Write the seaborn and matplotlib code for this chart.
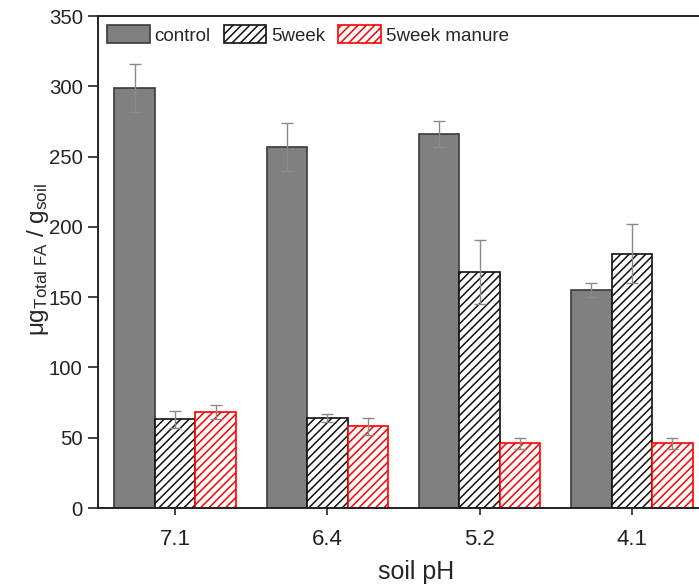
import matplotlib
matplotlib.use("Agg")
import matplotlib.pyplot as plt
import seaborn as sns
import pandas as pd
import numpy as np

# data
ph_levels = ['7.1', '6.4', '5.2', '4.1']
series = ['control', '5week', '5week manure']
control = [299, 257, 266, 155]
control_err = [17, 17, 9, 5]
week5 = [63, 64, 168, 181]
week5_err = [6, 3, 23, 21]
manure = [68, 58, 46, 46]
manure_err = [5, 6, 4, 4]

df = pd.DataFrame({
    'pH': ph_levels * 3,
    'treatment': [s for s in series for _ in ph_levels],
    'value': control + week5 + manure,
    'err': control_err + week5_err + manure_err,
})

sns.set_style('ticks')
plt.rcParams['font.family'] = ['Liberation Sans', 'DejaVu Sans']
plt.rcParams['mathtext.fontset'] = 'custom'
plt.rcParams['mathtext.rm'] = 'Liberation Sans'
plt.rcParams['mathtext.it'] = 'Liberation Sans'
plt.rcParams['hatch.linewidth'] = 1.1

fig = plt.figure(figsize=(6.99, 5.85), dpi=100)
ax = fig.add_axes([98 / 699, 77 / 585, 611 / 699, 492 / 585])

sns.barplot(data=df, x='pH', y='value', hue='treatment', order=ph_levels,
            hue_order=series, errorbar=None, width=0.8, gap=0,
            palette=['#808080', 'white', 'white'], legend=False, ax=ax)

styles = {
    'control': dict(edgecolor='#3a3a3a', hatch=None),
    '5week': dict(edgecolor='#111111', hatch='////'),
    '5week manure': dict(edgecolor='red', hatch='////'),
}
for name, cont in zip(series, ax.containers):
    sub = df[df['treatment'] == name].set_index('pH').loc[ph_levels]
    for p in cont.patches:
        p.set_edgecolor(styles[name]['edgecolor'])
        p.set_linewidth(1.2)
        if styles[name]['hatch']:
            p.set_hatch(styles[name]['hatch'])
    xs = [p.get_x() + p.get_width() / 2 for p in cont.patches]
    ax.errorbar(xs, sub['value'], yerr=sub['err'], fmt='none',
                ecolor='#8a8a8a', elinewidth=1, capsize=4, capthick=1, zorder=5)

ax.legend(ax.containers, series, loc='upper left', ncol=3, frameon=False,
          fontsize=13.5, handlelength=2.25, handleheight=1.1, handletextpad=0.27,
          columnspacing=0.7, borderpad=0.3, borderaxespad=0.2,
          bbox_to_anchor=(0.0, 1.0))

ax.set_ylim(0, 350)
ax.set_yticks(np.arange(0, 351, 50))
ax.set_xlim(-0.507, 3.507)
ax.set_xlabel('soil pH', fontsize=18)
ax.xaxis.set_label_coords(0.52, -0.105)
ax.set_ylabel(r'μg$_{\mathrm{Total\ FA}}$ / g$_{\mathrm{soil}}$', fontsize=17.5)
ax.yaxis.set_label_coords(-0.077, 0.505)
ax.tick_params(axis='both', direction='out', width=1.2, colors='#222222')
ax.tick_params(axis='y', length=7, labelsize=14.7, pad=4)
ax.tick_params(axis='x', length=5, labelsize=16, pad=10)
for sp in ax.spines.values():
    sp.set_linewidth(1.4)
    sp.set_color('#222222')
    sp.set_visible(True)

fig.savefig('out.png', dpi=100)
